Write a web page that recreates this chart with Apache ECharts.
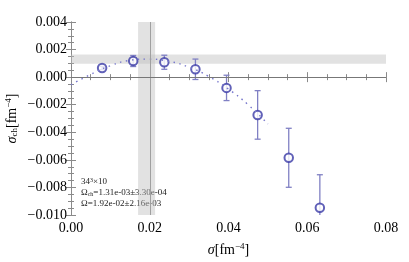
<!DOCTYPE html>
<html><head><meta charset="utf-8">
<script src="https://cdn.jsdelivr.net/npm/echarts@6/dist/echarts.min.js"></script>
<style>html,body{margin:0;padding:0;background:#fff}#c{width:409px;height:262px}</style>
</head><body><div id="c"></div>
<script>
// data
const sigma   = [0.0079, 0.0158, 0.0237, 0.0316, 0.0395, 0.0474, 0.0553, 0.0632];
const sigmaCh = [0.00066, 0.00117, 0.00108, 0.00057, -0.00078, -0.00274, -0.00585, -0.00948];
const sigmaErr = [0.00012, 0.0004, 0.00051, 0.00074, 0.00092, 0.00176, 0.00214, 0.0024];
const fitX = [0, 0.005, 0.01, 0.015, 0.0192, 0.025, 0.03, 0.035, 0.04, 0.045, 0.05];
const fitY = [-0.00055, 0.00020, 0.00083, 0.00122, 0.00131, 0.00114, 0.00072, 0.00005, -0.00087, -0.0020, -0.0034];
const omegaCh = [0.00131, 0.00033];
const omega = [0.0192, 0.00216];
const annot = ['34{sup|3}×10', 'Ω{sub|ch}=1.31e-03±3.30e-04', 'Ω=1.92e-02±2.16e-03'];

const serif = 'Liberation Serif';
const frame = '#8a8a8a';
const fmt = (v, d) => { const s = Math.abs(v).toFixed(d); return (v < -1e-12 ? '\u2212' : '') + s; };

const axCommon = {
  axisLine: {show: true, lineStyle: {color: frame, width: 1}},
  axisTick: {show: true, inside: true, length: 5, lineStyle: {color: frame}},
  minorTick: {show: true, splitNumber: 4, length: 3, lineStyle: {color: frame}},
  splitLine: {show: false},
  minorSplitLine: {show: false}
};

const option = {
  animation: false,
  grid: {left: 71, right: 23, top: 22, bottom: 47, containLabel: false, outerBoundsMode: 'none'},
  xAxis: [
    Object.assign({type: 'value', min: 0, max: 0.08, interval: 0.02, position: 'bottom',
      axisLabel: {fontFamily: serif, fontSize: 14, color: '#000', margin: 6, formatter: v => fmt(v, 2)},
      name: '{i|σ}[fm{p|−4}]', nameLocation: 'middle', nameGap: 27,
      nameTextStyle: {fontFamily: serif, fontSize: 14, color: '#000',
        rich: {i: {fontStyle: 'italic', fontFamily: serif, fontSize: 14}, p: {fontFamily: serif, fontSize: 9, verticalAlign: 'bottom', padding: [0, 0, 8, 0]}}}
    }, axCommon),
    Object.assign({type: 'value', min: 0, max: 0.08, interval: 0.02, position: 'top',
      axisLabel: {show: false}}, axCommon)
  ],
  yAxis: [
    Object.assign({type: 'value', min: -0.01, max: 0.004, interval: 0.002, position: 'left',
      axisLabel: {fontFamily: serif, fontSize: 14, color: '#000', margin: 4, formatter: v => fmt(v, 3)},
      name: '{i|σ}{s|ch}[fm{p|−4}]', nameLocation: 'middle', nameGap: 50, nameRotate: 90,
      nameMoveOverlap: false,
      nameTextStyle: {fontFamily: serif, fontSize: 14, color: '#000',
        rich: {i: {fontStyle: 'italic', fontFamily: serif, fontSize: 14},
               s: {fontFamily: serif, fontSize: 9, verticalAlign: 'top', padding: [6, 0, 0, 0]},
               p: {fontFamily: serif, fontSize: 9, verticalAlign: 'bottom', padding: [0, 0, 8, 0]}}}
    }, axCommon),
    Object.assign({type: 'value', min: -0.01, max: 0.004, interval: 0.002, position: 'right',
      axisLabel: {show: false}}, axCommon)
  ],
  graphic: annot.map((t, i) => ({
    type: 'text', left: 81, top: 177 + i * 11,
    style: {text: t, font: '9px "Liberation Serif"', fill: '#222',
      rich: {sup: {fontSize: 6, fontFamily: serif, verticalAlign: 'bottom', padding: [0, 0, 4, 0]},
             sub: {fontSize: 6, fontFamily: serif, verticalAlign: 'top', padding: [3, 0, 0, 0]}}}
  })),
  series: [
    {
      type: 'line', data: [], silent: true,
      markArea: {silent: true, itemStyle: {color: 'rgba(190,190,190,0.45)'},
        data: [
          [{yAxis: omegaCh[0] - omegaCh[1]}, {yAxis: omegaCh[0] + omegaCh[1]}],
          [{xAxis: omega[0] - omega[1]}, {xAxis: omega[0] + omega[1]}]
        ]},
      markLine: {silent: true, symbol: 'none', label: {show: false},
        data: [
          {yAxis: omegaCh[0], lineStyle: {color: '#a0a0a0', width: 1, type: 'solid'}},
          {xAxis: omega[0], lineStyle: {color: '#a0a0a0', width: 1, type: 'solid'}},
          {yAxis: 0, lineStyle: {color: '#777', width: 1, type: 'solid'}}
        ]}
    },
    {
      type: 'line', smooth: true, showSymbol: false, symbol: 'none',
      data: fitX.map((x, i) => [x, fitY[i]]),
      lineStyle: {color: '#7878cc', width: 1.4, type: [1.5, 4.5]}
    },
    {
      type: 'custom',
      data: sigma.map((x, i) => [x, sigmaCh[i] - sigmaErr[i], sigmaCh[i] + sigmaErr[i]]),
      renderItem: function (params, api) {
        const cs = params.coordSys;
        const x = api.value(0);
        const pHi = api.coord([x, api.value(2)]);
        const pLo = api.coord([x, api.value(1)]);
        const bottom = cs.y + cs.height, top = cs.y;
        const y1 = Math.max(pHi[1], top), y2 = Math.min(pLo[1], bottom);
        const st = {stroke: '#8080c4', lineWidth: 1.3};
        const ch = [{type: 'line', shape: {x1: pHi[0], y1: y1, x2: pLo[0], y2: y2}, style: st}];
        if (pHi[1] >= top) ch.push({type: 'line', shape: {x1: pHi[0] - 3, y1: pHi[1], x2: pHi[0] + 3, y2: pHi[1]}, style: st});
        if (pLo[1] <= bottom) ch.push({type: 'line', shape: {x1: pLo[0] - 3, y1: pLo[1], x2: pLo[0] + 3, y2: pLo[1]}, style: st});
        return {type: 'group', children: ch};
      }
    },
    {
      type: 'scatter', symbol: 'emptyCircle', symbolSize: 8.5,
      data: sigma.map((x, i) => [x, sigmaCh[i]]),
      itemStyle: {color: '#3a3aa6', borderColor: '#3a3aa6', borderWidth: 1.8}
    }
  ]
};
echarts.init(document.getElementById('c')).setOption(option);
</script></body></html>
